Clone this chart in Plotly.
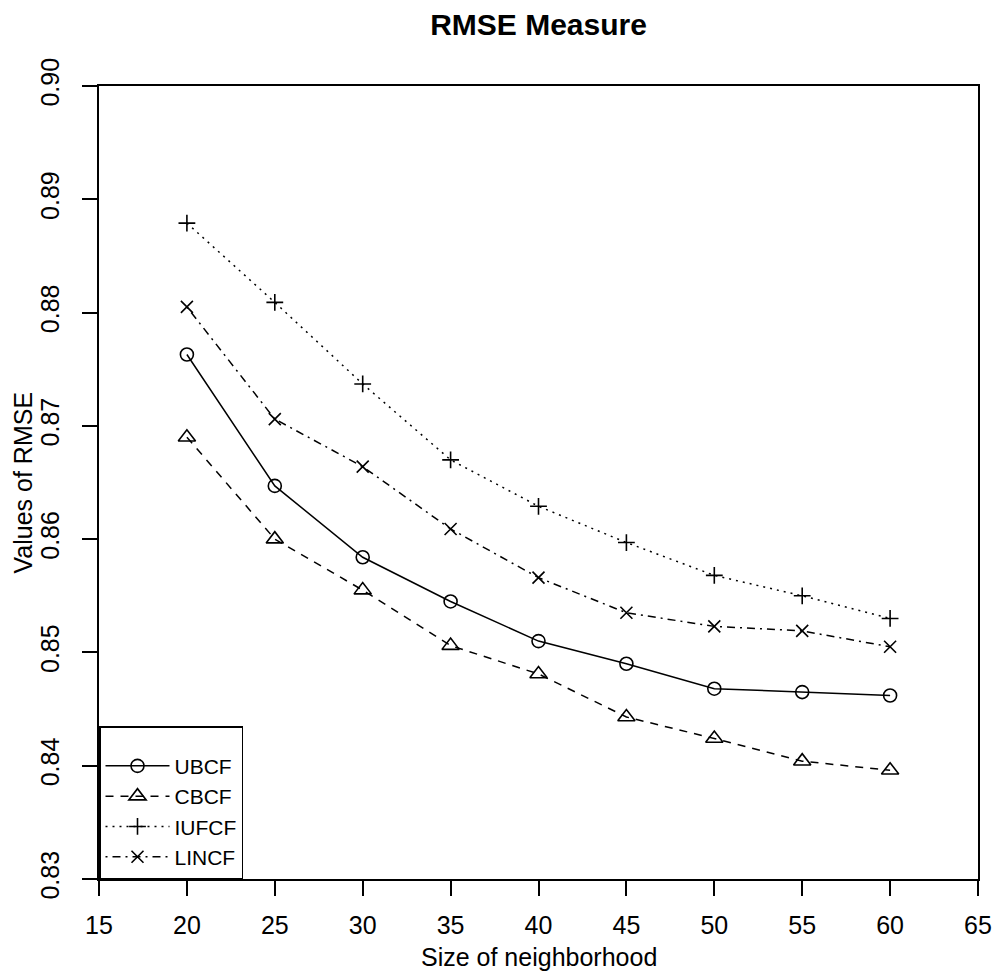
import plotly.graph_objects as go

neighborhood = [20, 25, 30, 35, 40, 45, 50, 55, 60]
ubcf = [0.8763, 0.8647, 0.8584, 0.8545, 0.8510, 0.8490, 0.8468, 0.8465, 0.8462]
cbcf = [0.8690, 0.8600, 0.8555, 0.8506, 0.8481, 0.8443, 0.8424, 0.8404, 0.8396]
iufcf = [0.8879, 0.8809, 0.8737, 0.8670, 0.8629, 0.8597, 0.8568, 0.8550, 0.8530]
lincf = [0.8805, 0.8706, 0.8664, 0.8609, 0.8566, 0.8535, 0.8523, 0.8519, 0.8505]

x_ticks = [15, 20, 25, 30, 35, 40, 45, 50, 55, 60, 65]
y_ticks = [0.83, 0.84, 0.85, 0.86, 0.87, 0.88, 0.89, 0.90]

FONT = "Liberation Sans, Arial, Helvetica, sans-serif"

series = [
    ("UBCF", ubcf, "solid", "circle-open", 13),
    ("CBCF", cbcf, "8px,7px", "triangle-up-open", 15),
    ("IUFCF", iufcf, "2px,5px", "cross-thin-open", 12),
    ("LINCF", lincf, "2px,5px,8px,5px", "x-thin-open", 12),
]

fig = go.Figure()
for name, vals, dash, sym, size in series:
    fig.add_trace(go.Scatter(
        x=neighborhood, y=vals, name=name, mode="lines+markers",
        line=dict(color="black", width=1.5, dash=dash),
        marker=dict(symbol=sym, size=size, color="black",
                    line=dict(color="black", width=1.6)),
    ))

axis_common = dict(
    showgrid=False, zeroline=False, showline=True, mirror=True,
    linecolor="black", linewidth=1.5, ticks="outside", ticklen=15,
    tickwidth=1.5, tickcolor="black",
    tickfont=dict(family=FONT, size=25, color="black"),
)

fig.update_xaxes(range=[15, 65], tickvals=x_ticks, ticklabelstandoff=8,
                 **axis_common)
fig.update_yaxes(range=[0.83, 0.90], tickvals=y_ticks, tickformat=".2f",
                 tickangle=-90, ticklabelstandoff=13, **axis_common)

fig.update_layout(
    width=1004, height=974,
    margin=dict(l=99, r=20, t=86, b=95, pad=0),
    paper_bgcolor="white", plot_bgcolor="white",
    font=dict(family=FONT, color="black"),
    title=dict(text="<b>RMSE Measure</b>", x=0.5, xanchor="center",
               xref="paper", y=1 - 24 / 974, yanchor="middle", yref="container",
               font=dict(family=FONT, size=30, color="black")),
    legend=dict(x=0, y=0, xanchor="left", yanchor="bottom",
                bordercolor="black", borderwidth=1.5, bgcolor="white",
                font=dict(family=FONT, size=21, color="black"),
                itemwidth=64, tracegroupgap=0,
                title=dict(text=" ", font=dict(size=14))),
    annotations=[
        dict(text="Size of neighborhood", xref="paper", yref="paper",
             x=0.5, y=0, yshift=-78, xanchor="center", yanchor="middle",
             showarrow=False, font=dict(family=FONT, size=25, color="black")),
        dict(text="Values of RMSE", xref="paper", yref="paper",
             x=0, y=0.5, xshift=-77, xanchor="center", yanchor="middle",
             textangle=-90, showarrow=False,
             font=dict(family=FONT, size=25, color="black")),
    ],
)

fig.write_html("out.html")
